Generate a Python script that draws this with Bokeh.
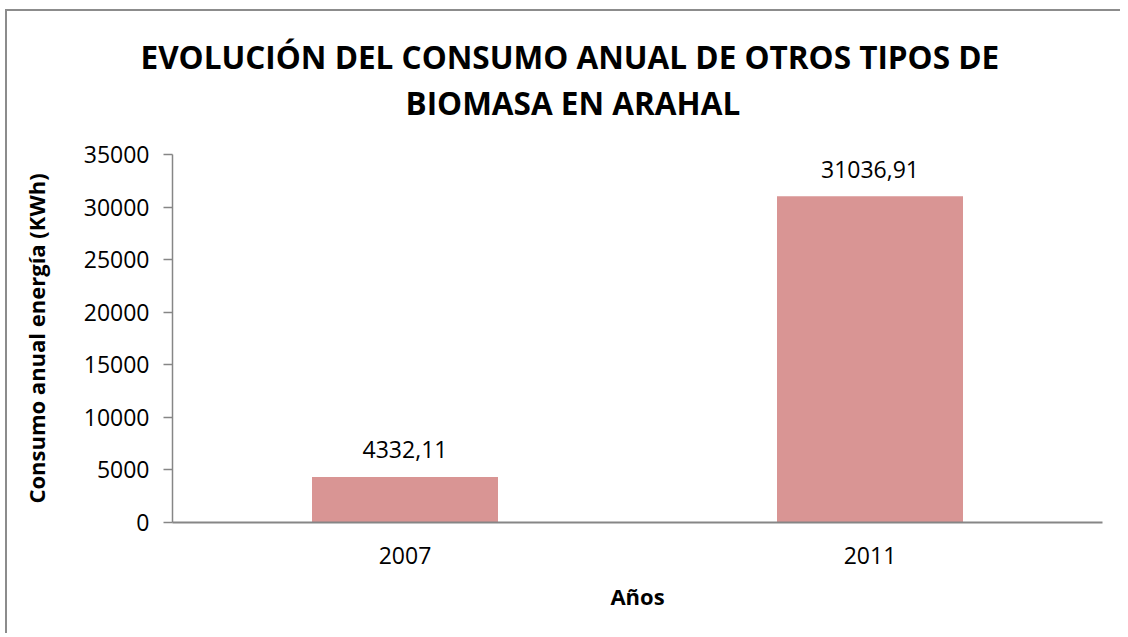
from bokeh.plotting import figure
from bokeh.models import ColumnDataSource, FixedTicker, Title, Range1d
from bokeh.embed import file_html
from bokeh.resources import INLINE
from bokeh.core.properties import value

# ---- data ----
years = ["2007", "2011"]
consumo = [4332.11, 31036.91]
etiquetas = ["4332,11", "31036,91"]
y_ticks = [0, 5000, 10000, 15000, 20000, 25000, 30000, 35000]
titulo = ["EVOLUCIÓN DEL CONSUMO ANUAL DE OTROS TIPOS DE", "BIOMASA EN ARAHAL"]
eje_y = "Consumo anual energía (KWh)"
eje_x = "Años"

FONT = "Open Sans"
GRAY = "#868686"

src = ColumnDataSource(dict(x=years, top=consumo, lab=etiquetas))

p = figure(x_range=years, y_range=Range1d(0, 35000),
           width=1115, height=624,
           output_backend="svg", toolbar_location=None,
           min_border_left=165, min_border_right=20,
           min_border_top=143, min_border_bottom=113)
p.styles = {"border-left": "2px solid #8C8C8C", "border-top": "2px solid #8C8C8C",
            "margin-left": "5px", "margin-top": "9px"}

p.vbar(x="x", top="top", width=0.4, source=src,
       fill_color="#D99594", line_color=None)
p.text(x="x", y="top", text="lab", source=src,
       text_align="center", text_baseline="middle", y_offset=-27,
       text_font=value(FONT), text_font_size="23px", text_color="#000000")

# title lines (second line is nearest to the plot, so it is added first)
for line, off, so in [(titulo[1], 233, 62), (titulo[0], -32, -60)]:
    p.add_layout(Title(text=line, align="left", offset=off, standoff=so,
                       text_font=FONT, text_font_size="31.5px", text_font_style="bold",
                       text_color="#000000"), "above")

p.outline_line_color = None
p.xgrid.visible = False
p.ygrid.visible = False

p.yaxis.ticker = FixedTicker(ticks=y_ticks)
p.yaxis.axis_line_color = GRAY
p.yaxis.axis_line_width = 1.5
p.yaxis.major_tick_line_color = GRAY
p.yaxis.major_tick_line_width = 1.5
p.yaxis.major_tick_out = 9
p.yaxis.major_tick_in = 0
p.yaxis.minor_tick_line_color = None
p.yaxis.major_label_text_font = FONT
p.yaxis.major_label_text_font_size = "23px"
p.yaxis.major_label_text_color = "#000000"
p.yaxis.major_label_standoff = 14
p.yaxis.axis_label = eje_y
p.yaxis.axis_label_text_font = FONT
p.yaxis.axis_label_text_font_size = "22px"
p.yaxis.axis_label_text_font_style = "bold"
p.yaxis.axis_label_text_color = "#000000"
p.yaxis.axis_label_standoff = 30

p.xaxis.axis_line_color = GRAY
p.xaxis.axis_line_width = 2
p.xaxis.major_tick_line_color = None
p.xaxis.minor_tick_line_color = None
p.xaxis.major_label_text_font = FONT
p.xaxis.major_label_text_font_size = "23px"
p.xaxis.major_label_text_color = "#000000"
p.xaxis.major_label_standoff = 18
p.xaxis.axis_label = eje_x
p.xaxis.axis_label_text_font = FONT
p.xaxis.axis_label_text_font_size = "22px"
p.xaxis.axis_label_text_font_style = "bold"
p.xaxis.axis_label_text_color = "#000000"
p.xaxis.axis_label_standoff = 14

open("out.html", "w").write(file_html(p, INLINE))
